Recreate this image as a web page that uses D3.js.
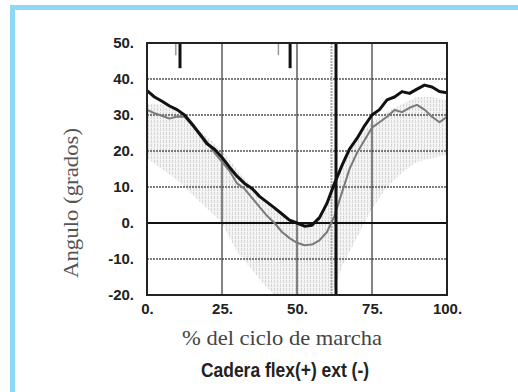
<!DOCTYPE html>
<html>
<head>
<meta charset="utf-8">
<script src="https://cdn.jsdelivr.net/npm/d3@7"></script>
<style>
  html, body { margin: 0; padding: 0; background: #fff; }
  svg { display: block; }
</style>
</head>
<body>
<svg id="chart" width="518" height="392"></svg>
<script>
// % of gait cycle where the curves were read
const pct = [0, 2.5, 5, 7.5, 10, 12.5, 15, 17.5, 20, 22.5, 25, 27.5, 30, 32.5, 35, 37.5, 40,
  42.5, 45, 47.5, 50, 52.5, 55, 57.5, 60, 62.5, 65, 67.5, 70, 72.5, 75, 77.5, 80, 82.5, 85,
  87.5, 90, 92.5, 95, 97.5, 100];
// thick black curve
const blackAngle = [36.8, 35, 33.8, 32.5, 31.5, 30, 27.5, 24.8, 22, 20.5, 18.2, 15.5, 13, 11,
  9.6, 7.4, 5.8, 4.2, 2.5, 0.8, 0, -0.9, -0.6, 1.5, 5.5, 11, 16, 20.5, 23.5, 27, 30, 31.5,
  34.2, 35, 36.5, 36, 37.2, 38.3, 37.8, 36.5, 36.2];
// thinner grey curve
const greyAngle = [31.4, 30.5, 29.8, 29, 29.6, 29.5, 27.2, 25, 22.5, 19.5, 17, 14.5, 11, 9.5,
  7, 4.5, 2, 0, -2.5, -4.2, -5.5, -6.2, -6, -4.8, -2.5, 2, 8.5, 15, 19.5, 23, 26.5, 28, 29.5,
  31.4, 30.8, 32, 32.8, 31.5, 29.5, 28, 29.5];
// shaded normal band
const bandPct = [0, 5, 10, 15, 20, 25, 30, 35, 40, 45, 50, 55, 60, 62.5, 65, 70, 75, 80, 85, 90, 95, 100];
const bandUpper = [33, 33, 31, 27, 24, 20, 15, 10, 6, 2, 0, 0, 4, 10, 17, 24, 28, 31, 33, 35, 35, 34];
const bandLower = [18, 15, 12, 8, 4, 0, -8, -13, -18, -22, -22, -22, -22, -18, -12, -4, 4, 10, 14, 17, 18, 19];

const yTicks = [50, 40, 30, 20, 10, 0, -10, -20];
const xTicks = [0, 25, 50, 75, 100];
const dashedGrid = [40, 30, 20, 10, -10];
const solidGridX = [25, 50, 75];
const toeOff = 63;
const toeOffGrey = 61.5;
// event markers at the top: [x, bottom value]
const blackMarks = [[11, 43], [47.7, 43]];
const greyMarks = [[9.6, 46.6], [43.8, 46.6]];

const svg = d3.select('#chart');

// light blue frame
svg.append('path')
  .attr('d', 'M12.5,392 L12.5,7.5 L518,7.5')
  .attr('fill', 'none')
  .attr('stroke', '#8fd8f5')
  .attr('stroke-width', 5);

const x = d3.scaleLinear().domain([0, 100]).range([147, 447]);
const y = d3.scaleLinear().domain([-20, 50]).range([295, 43]);

const defs = svg.append('defs');
defs.append('clipPath').attr('id', 'plot-clip')
  .append('rect')
  .attr('x', x(0)).attr('y', y(50))
  .attr('width', x(100) - x(0)).attr('height', y(-20) - y(50));

const pat = defs.append('pattern')
  .attr('id', 'stipple')
  .attr('patternUnits', 'userSpaceOnUse')
  .attr('width', 3).attr('height', 4);
pat.append('rect').attr('width', 3).attr('height', 4).attr('fill', '#f3f3f3');
pat.append('rect').attr('x', 1).attr('y', 0).attr('width', 1).attr('height', 3).attr('fill', '#d6d6d6');

const plot = svg.append('g').attr('clip-path', 'url(#plot-clip)');

// band
const area = d3.area()
  .x((d, i) => x(bandPct[i]))
  .y0((d, i) => y(bandLower[i]))
  .y1((d, i) => y(bandUpper[i]));
plot.append('path')
  .datum(bandUpper)
  .attr('d', area)
  .attr('fill', 'url(#stipple)');

// grid
plot.selectAll('.hgrid')
  .data(dashedGrid)
  .enter().append('line')
  .attr('x1', x(0)).attr('x2', x(100))
  .attr('y1', d => y(d)).attr('y2', d => y(d))
  .attr('stroke', '#555')
  .attr('stroke-width', 1.3)
  .attr('stroke-dasharray', '2,1');

plot.selectAll('.vgrid')
  .data(solidGridX)
  .enter().append('line')
  .attr('x1', d => x(d)).attr('x2', d => x(d))
  .attr('y1', y(50)).attr('y2', y(-20))
  .attr('stroke', '#333')
  .attr('stroke-width', 1.2);

plot.append('line')
  .attr('x1', x(0)).attr('x2', x(100))
  .attr('y1', y(0)).attr('y2', y(0))
  .attr('stroke', '#111')
  .attr('stroke-width', 2);

plot.append('line')
  .attr('x1', x(toeOffGrey)).attr('x2', x(toeOffGrey))
  .attr('y1', y(50)).attr('y2', y(-20))
  .attr('stroke', '#aaa')
  .attr('stroke-width', 2)
  .attr('stroke-dasharray', '2,1');

// curves
const line = d3.line()
  .x((d, i) => x(pct[i]))
  .y(d => y(d));

plot.append('path')
  .datum(greyAngle)
  .attr('d', line)
  .attr('fill', 'none')
  .attr('stroke', '#7a7a7a')
  .attr('stroke-width', 2)
  .attr('stroke-linejoin', 'round');

plot.append('path')
  .datum(blackAngle)
  .attr('d', line)
  .attr('fill', 'none')
  .attr('stroke', '#111')
  .attr('stroke-width', 3)
  .attr('stroke-linejoin', 'round');

plot.append('line')
  .attr('x1', x(toeOff)).attr('x2', x(toeOff))
  .attr('y1', y(50)).attr('y2', y(-20))
  .attr('stroke', '#111')
  .attr('stroke-width', 3);

// event marks
plot.selectAll('.gmark')
  .data(greyMarks)
  .enter().append('line')
  .attr('x1', d => x(d[0])).attr('x2', d => x(d[0]))
  .attr('y1', y(50)).attr('y2', d => y(d[1]))
  .attr('stroke', '#999')
  .attr('stroke-width', 1.5);

plot.selectAll('.bmark')
  .data(blackMarks)
  .enter().append('line')
  .attr('x1', d => x(d[0])).attr('x2', d => x(d[0]))
  .attr('y1', y(50)).attr('y2', d => y(d[1]))
  .attr('stroke', '#111')
  .attr('stroke-width', 3);

// frame
svg.append('rect')
  .attr('x', x(0)).attr('y', y(50))
  .attr('width', x(100) - x(0)).attr('height', y(-20) - y(50))
  .attr('fill', 'none')
  .attr('stroke', '#222')
  .attr('stroke-width', 2);

// axes (labels only, no tick marks)
const yAxis = d3.axisLeft(y)
  .tickValues(yTicks)
  .tickSize(0)
  .tickPadding(13)
  .tickFormat(d => d + '.');
svg.append('g')
  .attr('transform', `translate(${x(0)},0)`)
  .call(yAxis)
  .call(g => g.select('.domain').remove())
  .selectAll('text')
  .style('font-family', 'Arial, "Liberation Sans", sans-serif')
  .style('font-weight', 'bold')
  .style('font-size', '15px')
  .style('fill', '#222');

const xAxis = d3.axisBottom(x)
  .tickValues(xTicks)
  .tickSize(0)
  .tickPadding(8)
  .tickFormat(d => d + '.');
svg.append('g')
  .attr('transform', `translate(0,${y(-20)})`)
  .call(xAxis)
  .call(g => g.select('.domain').remove())
  .selectAll('text')
  .style('font-family', 'Arial, "Liberation Sans", sans-serif')
  .style('font-weight', 'bold')
  .style('font-size', '15px')
  .style('fill', '#222');

// axis titles
svg.append('text')
  .attr('transform', 'translate(78,203) rotate(-90)')
  .attr('text-anchor', 'middle')
  .attr('textLength', 150)
  .attr('lengthAdjust', 'spacingAndGlyphs')
  .style('font-family', '"Liberation Serif", "Times New Roman", serif')
  .style('font-size', '21px')
  .style('fill', '#555')
  .text('Angulo (grados)');

svg.append('text')
  .attr('x', 282)
  .attr('y', 345)
  .attr('text-anchor', 'middle')
  .attr('textLength', 200)
  .attr('lengthAdjust', 'spacingAndGlyphs')
  .style('font-family', '"Liberation Serif", "Times New Roman", serif')
  .style('font-size', '21px')
  .style('fill', '#444')
  .text('% del ciclo de marcha');

svg.append('text')
  .attr('x', 285)
  .attr('y', 377)
  .attr('text-anchor', 'middle')
  .attr('textLength', 168)
  .attr('lengthAdjust', 'spacingAndGlyphs')
  .style('font-family', '"Liberation Sans Narrow", "Arial Narrow", Arial, sans-serif')
  .style('font-weight', 'bold')
  .style('font-size', '20px')
  .style('fill', '#222')
  .text('Cadera flex(+) ext (-)');
</script>
</body>
</html>
